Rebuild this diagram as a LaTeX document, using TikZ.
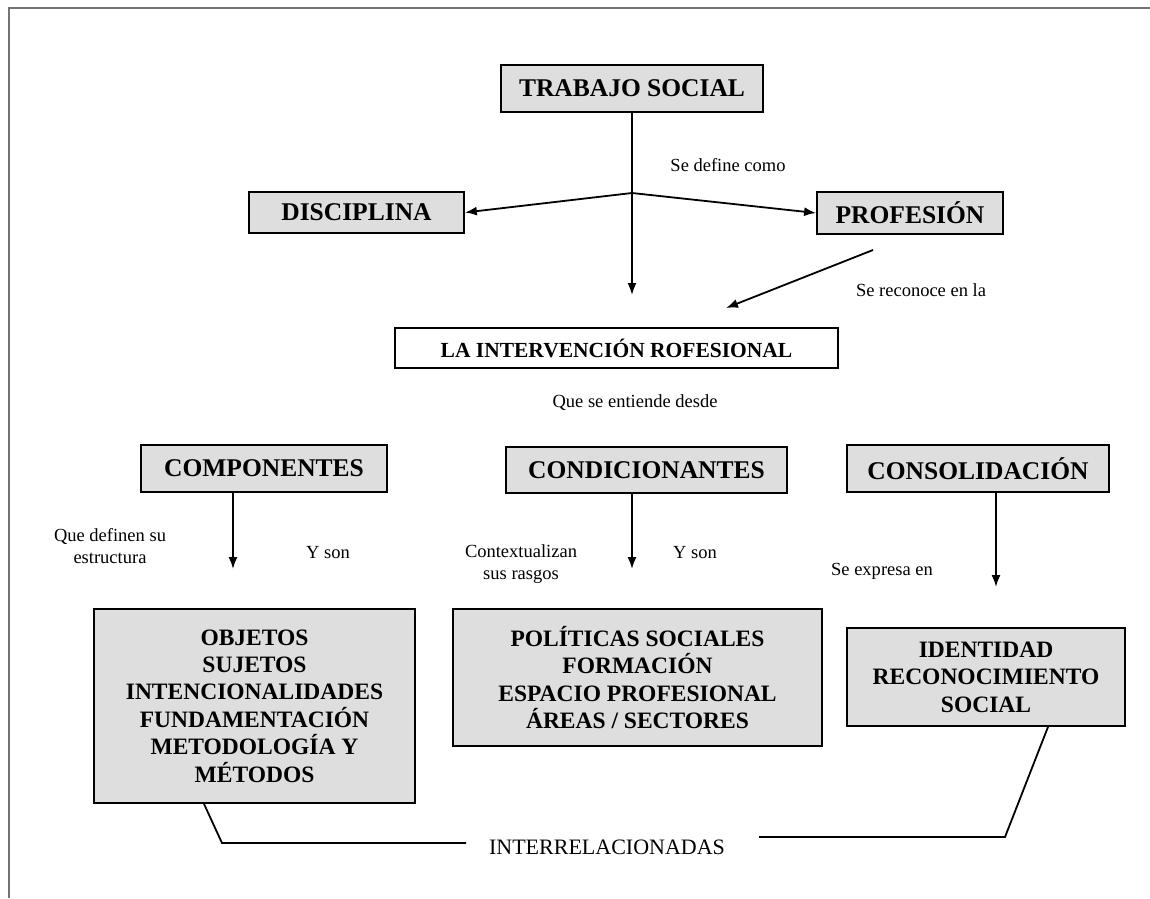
\documentclass[tikz,border=0pt]{standalone}
\usepackage{fontspec}
\setmainfont{Liberation Serif}
\usetikzlibrary{arrows.meta}
\tikzset{
  boxg/.style={draw=black, line width=1.8pt, fill=black!13, inner sep=0pt, align=center},
  boxw/.style={draw=black, line width=1.5pt, fill=white, inner sep=0pt, align=center},
  hd/.style={font=\bfseries\fontsize{25.5}{30}\selectfont},
  bd/.style={font=\bfseries\fontsize{23.5}{27.4}\selectfont},
  lbl/.style={font=\fontsize{18.5}{22}\selectfont, align=center, inner sep=0pt},
  arr/.style={line width=1.8pt, -{Latex[length=12pt,width=9pt]}},
  ln/.style={line width=1.8pt}
}
\begin{document}
\begin{tikzpicture}[x=1pt,y=-1pt]
\useasboundingbox (0,0) rectangle (1150,898);
\draw[black!55, line width=2.5pt] (9,898) -- (9,8) -- (1150,8);

% boxes
\node[boxg, hd, minimum width=262pt, minimum height=47pt] (ts) at (632,88.5) {TRABAJO SOCIAL};
\node[boxg, hd, minimum width=215pt, minimum height=41pt] (dis) at (356.5,212.5) {DISCIPLINA};
\node[boxg, hd, minimum width=186pt, minimum height=42pt] (pro) at (910,213) {PROFESIÓN};
\node[boxw, font=\bfseries\fontsize{21.5}{25}\selectfont, minimum width=443pt, minimum height=40pt] (lai) at (616.5,348) {LA INTERVENCIÓN ROFESIONAL};
\node[boxg, hd, minimum width=246pt, minimum height=47pt] (comp) at (264,468.5) {COMPONENTES};
\node[boxg, hd, minimum width=281pt, minimum height=46pt] (cond) at (646.5,470) {CONDICIONANTES};
\node[boxg, hd, minimum width=262pt, minimum height=47pt] (cons) at (978,468.5) {CONSOLIDACIÓN};
\node[boxg, bd, minimum width=321pt, minimum height=194pt] (obj) at (254.5,706) {OBJETOS\\SUJETOS\\INTENCIONALIDADES\\FUNDAMENTACIÓN\\METODOLOGÍA Y\\MÉTODOS};
\node[boxg, bd, minimum width=369pt, minimum height=137pt] (pol) at (637.5,677.5) {POLÍTICAS SOCIALES\\FORMACIÓN\\ESPACIO PROFESIONAL\\ÁREAS / SECTORES};
\node[boxg, bd, minimum width=278pt, minimum height=98pt] (ide) at (986,677) {IDENTIDAD\\RECONOCIMIENTO\\SOCIAL};

% labels
\node[lbl] (l1) at (728,165) {Se define como};
\node[lbl] (l2) at (921,290) {Se reconoce en la};
\node[lbl] (l3) at (635,403) {Que se entiende desde};
\node[lbl] (l4) at (110,546) {Que definen su\\estructura};
\node[lbl] (l5) at (328,553) {Y son};
\node[lbl] (l6) at (521,564) {Contextualizan\\sus rasgos};
\node[lbl] (l7) at (695,553) {Y son};
\node[lbl] (l8) at (882,571) {Se expresa en};
\node[font=\fontsize{22}{26}\selectfont, inner sep=0pt] (inter) at (607,847) {INTERRELACIONADAS};

% connector coordinates
\coordinate (br) at (632,193);
\coordinate (dn) at (632,295);
\coordinate (p1) at (873,250);
\coordinate (p2) at (726,308);
\coordinate (ca) at (233,569);
\coordinate (cb) at (632,569);
\coordinate (cc) at (996,587);
\coordinate (q1) at (222,843);
\coordinate (q2) at (466,843);
\coordinate (r1) at (759,837);
\coordinate (r2) at (1005,837);

% connectors
\draw[arr] (ts.south) -- (dn);
\draw[arr] (br) -- (dis.east);
\draw[arr] (br) -- (pro.west);
\draw[arr] (p1) -- (p2);
\draw[arr] (comp.south -| ca) -- (ca);
\draw[arr] (cond.south -| cb) -- (cb);
\draw[arr] (cons.south -| cc) -- (cc);
\draw[ln] ([xshift=-50.5pt]obj.south) -- (q1) -- (q2);
\draw[ln] (r1) -- (r2) -- ([xshift=62pt]ide.south);
\end{tikzpicture}
\end{document}
